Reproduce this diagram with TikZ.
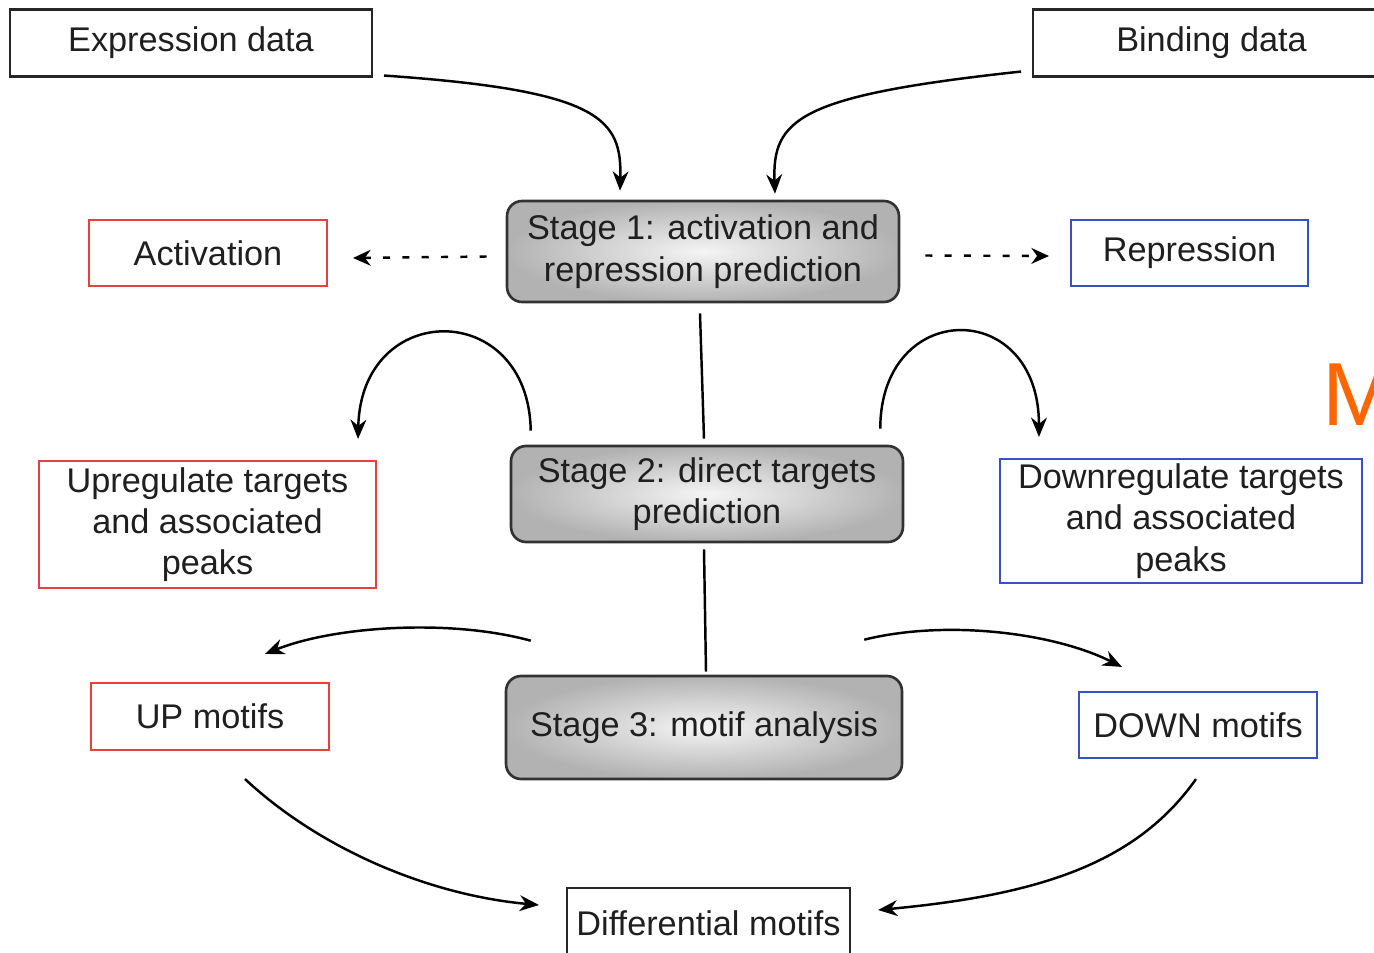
\documentclass[tikz,border=0pt]{standalone}
\usepackage{fontspec}
\setmainfont{Liberation Sans}
\usetikzlibrary{arrows.meta,shadings}
\definecolor{boxred}{RGB}{232,64,64}
\definecolor{boxblue}{RGB}{56,82,196}
\definecolor{stageedge}{RGB}{50,50,50}
\definecolor{orangeM}{RGB}{255,102,0}
\begin{document}
\begin{tikzpicture}[x=0.02cm,y=-0.02cm,
        every node/.style={inner sep=0pt, align=center, text=black!88,
                           font=\fontsize{19.5}{23.5}\selectfont},
        databox/.style={draw=black!85, line width=1.2pt},
        redbox/.style={draw=boxred, line width=1.2pt},
        bluebox/.style={draw=boxblue, line width=1.2pt},
        stagebox/.style={draw=stageedge, line width=1.5pt, rounded corners=0.3cm,
                         inner color=black!4, outer color=black!30,
                         minimum width=7.84cm},
        flow/.style={line width=1.4pt, -{Stealth[length=11pt,width=9pt]}},
        hint/.style={line width=1.4pt, dash pattern=on 4pt off 7pt,
                     -{Stealth[length=10pt,width=9pt]}},
        link/.style={line width=1.4pt}]
    \useasboundingbox (0,0) rectangle (1374,953);
    \clip (0,0) rectangle (1374,953);

    % inputs
    \node[databox, minimum width=7.24cm, minimum height=1.34cm] (expr) at (191,43) {Expression data};
    \node[databox, minimum width=7.14cm, minimum height=1.34cm] (bind) at (1211.5,43) {Binding data};

    % stages
    \node[stagebox, minimum height=2.02cm] (stage1) at (703,251.5) {Stage 1: activation and\\repression prediction};
    \node[stagebox, minimum height=1.92cm] (stage2) at (707,494) {Stage 2: direct targets\\prediction};
    \node[stagebox, minimum width=7.92cm, minimum height=2.06cm] (stage3) at (704,727.5) {Stage 3: motif analysis};

    % outcomes
    \node[redbox, minimum width=4.76cm, minimum height=1.32cm] (act) at (208,253) {Activation};
    \node[bluebox, minimum width=4.74cm, minimum height=1.32cm] (rep) at (1189.5,253) {Repression};
    \node[redbox, minimum width=6.74cm, minimum height=2.54cm] (up) at (207.5,524.5) {Upregulate targets\\and associated\\peaks};
    \node[bluebox, minimum width=7.24cm, minimum height=2.48cm] (down) at (1181,521) {Downregulate targets\\and associated\\peaks};
    \node[redbox, minimum width=4.76cm, minimum height=1.34cm] (upm) at (210,716.5) {UP motifs};
    \node[bluebox, minimum width=4.76cm, minimum height=1.32cm] (downm) at (1198,725) {DOWN motifs};
    \node[databox, minimum width=5.66cm, minimum height=1.4cm] (diff) at (708.5,923) {Differential motifs};

    \node[anchor=base west, text=orangeM, font=\fontsize{51}{51}\selectfont] (edgeM) at (1322,425) {M};

    % connectors
    \draw[flow] ([shift={(11,-2)}]expr.south east) .. controls +(217,15) and +(2,-72) .. ([shift={(-83,-9)}]stage1.north);
    \draw[flow] ([shift={(-11,-6)}]bind.south west) .. controls +(-222,24) and +(-3,-75) .. ([shift={(72,-6)}]stage1.north);
    \draw[hint] ([shift={(-19,5)}]stage1.west) -- ([shift={(25,5)}]act.east);
    \draw[hint] ([shift={(25,4)}]stage1.east) -- ([shift={(-21,3)}]rep.west);
    \draw[link] ([shift={(-3,10)}]stage1.south) -- ([shift={(-3,-6)}]stage2.north);
    \draw[link] ([shift={(-3,6)}]stage2.south) -- ([shift={(2,-3)}]stage3.north);
    \draw[flow] ([shift={(21,-14)}]stage2.north west) .. controls +(-2,-132) and +(3,-140) .. ([shift={(-19,-21)}]up.north east);
    \draw[flow] ([shift={(-24,-16)}]stage2.north east) .. controls +(0,-130) and +(0,-140) .. ([shift={(40,-21)}]down.north west);
    \draw[flow] ([shift={(26,-34)}]stage3.north west) .. controls +(-80,-22) and +(70,-28) .. ([shift={(55,-28)}]upm.north);
    \draw[flow] ([shift={(-39,-35)}]stage3.north east) .. controls +(80,-20) and +(-70,-35) .. ([shift={(-76,-24)}]downm.north);
    \draw[flow] ([shift={(35,28)}]upm.south) .. controls +(75,70) and +(-110,-10) .. ([shift={(-27,-18)}]diff.west);
    \draw[flow] ([shift={(-2,20)}]downm.south) .. controls +(-60,85) and +(160,-15) .. ([shift={(27,-13)}]diff.east);
\end{tikzpicture}
\end{document}
